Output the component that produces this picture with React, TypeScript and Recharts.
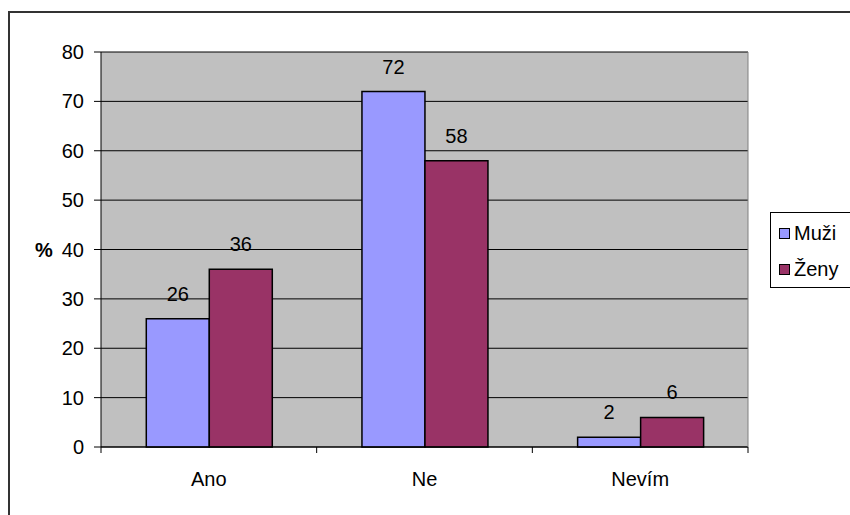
import React from 'react';
import {
  BarChart,
  Bar,
  XAxis,
  YAxis,
  CartesianGrid,
  Legend,
  LabelList,
} from 'recharts';

const categories = ['Ano', 'Ne', 'Nevím'];
const muzi = [26, 72, 2];
const zeny = [36, 58, 6];
const yTicks = [0, 10, 20, 30, 40, 50, 60, 70, 80];

const SERIES = [
  { key: 'muzi', name: 'Muži', color: '#9999FF' },
  { key: 'zeny', name: 'Ženy', color: '#993366' },
];

const FONT = '"Liberation Sans", Arial, sans-serif';
const X_LABEL_GAP = 25;

const data = categories.map((c, i) => ({ name: c, muzi: muzi[i], zeny: zeny[i] }));

const LegendBox = () => (
  <div
    style={{
      border: '1px solid #000',
      background: '#fff',
      width: 90,
      height: 76,
      boxSizing: 'border-box',
      paddingTop: 6,
      paddingLeft: 8,
      fontFamily: FONT,
      fontSize: 20,
      color: '#000',
    }}
  >
    {SERIES.map((s) => (
      <div key={s.key} style={{ display: 'flex', alignItems: 'center', height: 28, marginBottom: 8 }}>
        <span
          style={{
            display: 'inline-block',
            width: 11,
            height: 11,
            background: s.color,
            border: '1px solid #000',
            boxSizing: 'border-box',
            marginRight: 4,
          }}
        />
        <span>{s.name}</span>
      </div>
    ))}
  </div>
);

// category label plus the small tick marks at the band edges (Excel style)
const CatTick = (props: any) => {
  const { x, y, payload, index } = props;
  const half = payload && payload.offset ? payload.offset : 0;
  const y0 = y - X_LABEL_GAP;
  return (
    <g>
      {half > 0 && <line x1={x - half} x2={x - half} y1={y0} y2={y0 + 6} stroke="#000" />}
      {half > 0 && index === categories.length - 1 && (
        <line x1={x + half} x2={x + half} y1={y0} y2={y0 + 6} stroke="#000" />
      )}
      <text x={x} y={y} dy="0.71em" textAnchor="middle" fill="#000" fontSize={20} fontFamily={FONT}>
        {payload.value}
      </text>
    </g>
  );
};

export default function App() {
  return (
    <div
      style={{
        position: 'fixed',
        left: 0,
        top: 0,
        width: 850,
        height: 515,
        overflow: 'hidden',
        background: '#fff',
      }}
    >
      <div
        style={{
          position: 'absolute',
          left: 8,
          top: 11,
          width: 900,
          height: 600,
          borderLeft: '2px solid #333',
          borderTop: '2px solid #333',
        }}
      />
      <div style={{ position: 'absolute', left: 0, top: 0 }}>
        <BarChart
          width={850}
          height={515}
          data={data}
          margin={{ top: 52, right: 11, bottom: 37, left: 41 }}
          barCategoryGap="21%"
          barGap={0}
          style={{ fontFamily: FONT }}
        >
          <CartesianGrid vertical={false} stroke="#000" fill="#C0C0C0" fillOpacity={1} />
          <XAxis
            dataKey="name"
            height={31}
            tickLine={false}
            axisLine={{ stroke: '#000' }}
            tickSize={0}
            tickMargin={X_LABEL_GAP}
            tick={CatTick}
            interval={0}
          />
          <YAxis
            width={60}
            domain={[0, 80]}
            ticks={yTicks}
            interval={0}
            axisLine={{ stroke: '#000' }}
            tickLine={{ stroke: '#000' }}
            tickSize={7}
            tickMargin={10}
            tick={{ fill: '#000', fontSize: 20 }}
            label={{
              value: '%',
              position: 'insideLeft',
              offset: -6,
              fill: '#000',
              fontSize: 20,
              fontWeight: 'bold',
            }}
          />
          <YAxis
            yAxisId="r"
            orientation="right"
            width={1}
            domain={[0, 80]}
            tick={false}
            tickLine={false}
            axisLine={{ stroke: '#808080' }}
          />
          <Legend
            layout="vertical"
            align="right"
            verticalAlign="top"
            content={() => <LegendBox />}
            wrapperStyle={{ left: 770, top: 212, width: 90 }}
          />
          {SERIES.map((s) => (
            <Bar
              key={s.key}
              dataKey={s.key}
              name={s.name}
              fill={s.color}
              stroke="#000"
              strokeWidth={1.5}
              isAnimationActive={false}
            >
              <LabelList dataKey={s.key} position="top" offset={18} fill="#000" fontSize={20} />
            </Bar>
          ))}
        </BarChart>
      </div>
    </div>
  );
}
